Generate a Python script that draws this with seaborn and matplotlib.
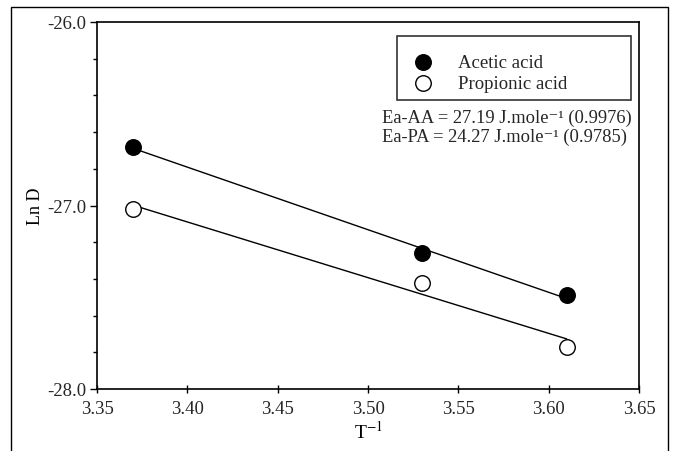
import numpy as np
import pandas as pd
import seaborn as sns
import matplotlib.pyplot as plt
from matplotlib.patches import Rectangle
from matplotlib.ticker import MultipleLocator

# data
inv_temp = [3.37, 3.53, 3.61]
lnD_acetic = [-26.68, -27.26, -27.49]
lnD_propionic = [-27.02, -27.42, -27.77]
ea_labels = ["Ea-AA = 27.19 J.mole\u207b\u00b9 (0.9976)",
             "Ea-PA = 24.27 J.mole\u207b\u00b9 (0.9785)"]

df = pd.DataFrame({"T": inv_temp, "AA": lnD_acetic, "PA": lnD_propionic})

sns.set_theme(style="white")
plt.rcParams['font.family'] = ['Liberation Serif', 'DejaVu Serif']
plt.rcParams['mathtext.fontset'] = 'stix'

fig = plt.figure(figsize=(6.73, 4.52), dpi=100)
ax = fig.add_axes([97 / 673, 1 - 390 / 452, 542 / 673, 367 / 452])

sns.regplot(data=df, x="T", y="AA", ax=ax, ci=None, label="Acetic acid",
            scatter_kws=dict(s=125, facecolor="black", edgecolor="black", linewidths=1,
                             alpha=1, zorder=3),
            line_kws=dict(color="black", lw=1))
sns.regplot(data=df, x="T", y="PA", ax=ax, ci=None, label="Propionic acid",
            scatter_kws=dict(s=125, facecolor="white", edgecolor="black", linewidths=1,
                             alpha=1, zorder=3),
            line_kws=dict(color="black", lw=1))

ax.set_xlim(3.35, 3.65)
ax.set_ylim(-28.0, -26.0)
ax.xaxis.set_major_locator(MultipleLocator(0.05))
ax.yaxis.set_major_locator(MultipleLocator(1.0))
ax.yaxis.set_minor_locator(MultipleLocator(0.2))
ax.xaxis.set_major_formatter(plt.FormatStrFormatter('%.2f'))
ax.yaxis.set_major_formatter(plt.FormatStrFormatter('%.1f'))
ax.tick_params(axis='x', direction='inout', length=6, width=1, labelsize=13.5,
               color='black', bottom=True, pad=5)
ax.tick_params(axis='y', which='major', direction='out', length=5, width=1, labelsize=13.5,
               color='black', left=True, pad=3)
ax.tick_params(axis='y', which='minor', direction='out', length=3, width=1, color='black', left=True)
for s in ax.spines.values():
    s.set_color('black')
    s.set_linewidth(1.2)

ax.set_xlabel("T$^{-1}$", fontsize=14, color='black', labelpad=2)
ax.set_ylabel("Ln D", fontsize=13, color='black', labelpad=2)

# legend: blank tiny title leaves the extra room above the first row
leg = ax.legend(loc='upper left', mode='expand', title=" ", title_fontsize=5,
                fontsize=13.5, frameon=True, fancybox=False, edgecolor='black',
                borderpad=0.45, handletextpad=0.95, labelspacing=0.22, handlelength=1.85,
                borderaxespad=0)
leg.get_frame().set_linewidth(1.2)
leg.set_bbox_to_anchor((0.5535, 0.793, 0.432, 0.169), transform=ax.transAxes)

ax.text(0.526, 0.741, ea_labels[0], transform=ax.transAxes, fontsize=13.3, va='center', ha='left')
ax.text(0.526, 0.689, ea_labels[1], transform=ax.transAxes, fontsize=13.3, va='center', ha='left')

# outer frame around the figure
fig.patches.append(Rectangle((11 / 673, -0.05), 657 / 673, 1 - 8 / 452 + 0.05,
                             transform=fig.transFigure, fill=False, edgecolor='black', lw=1))

fig.savefig("out.png", dpi=100)
